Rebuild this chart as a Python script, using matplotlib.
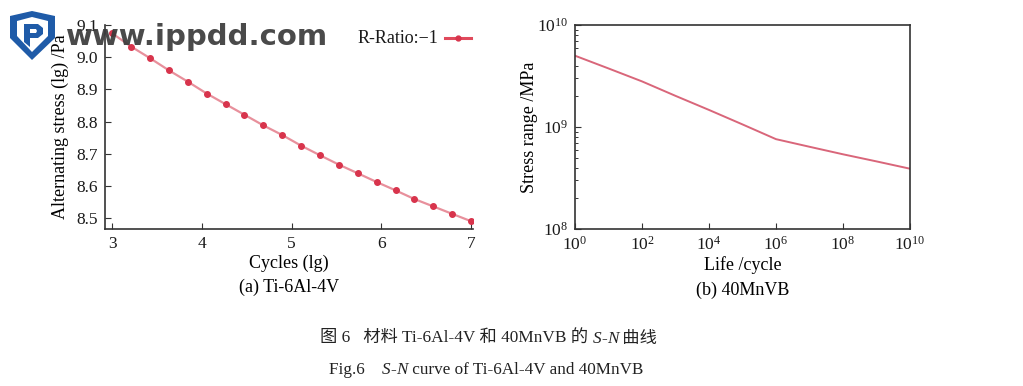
import matplotlib
matplotlib.use("Agg")
import matplotlib.pyplot as plt
import numpy as np
from matplotlib.patches import Polygon
from matplotlib.ticker import FixedLocator, LogLocator, NullFormatter, FuncFormatter

# ---- data ----
ti_cycles_lg = [3.000, 3.211, 3.421, 3.632, 3.842, 4.053, 4.263, 4.474, 4.684, 4.895,
                5.105, 5.316, 5.526, 5.737, 5.947, 6.158, 6.368, 6.579, 6.789, 7.000]
ti_stress_lg = [9.074, 9.033, 8.997, 8.959, 8.924, 8.887, 8.854, 8.821, 8.788, 8.758,
                8.725, 8.695, 8.666, 8.639, 8.612, 8.586, 8.559, 8.536, 8.513, 8.490]
mn_life = [1e0, 1e1, 1e2, 1e3, 1e4, 1e5, 1e6, 1e7, 1e8, 1e9, 1e10]
mn_stress = [5.0e9, 3.75e9, 2.8e9, 2.02e9, 1.47e9, 1.06e9, 7.6e8, 6.4e8, 5.4e8, 4.6e8, 3.9e8]
left_yticks = [8.5, 8.6, 8.7, 8.8, 8.9, 9.0, 9.1]
left_xticks = [3, 4, 5, 6, 7]
right_xticks = [1e0, 1e2, 1e4, 1e6, 1e8, 1e10]
right_yticks = [1e8, 1e9, 1e10]

SERIF = ['Liberation Serif', 'Noto Sans CJK SC', 'DejaVu Sans']
plt.rcParams['font.family'] = SERIF
plt.rcParams['mathtext.fontset'] = 'custom'
plt.rcParams['mathtext.rm'] = 'Liberation Serif'
plt.rcParams['mathtext.it'] = 'Liberation Serif:italic'

W, H = 1023, 386
fig = plt.figure(figsize=(W / 100, H / 100), dpi=100)

def ax_rect(x0, x1, y0, y1):
    return [x0 / W, 1 - y1 / H, (x1 - x0) / W, (y1 - y0) / H]

axis_col = '#333333'
tick_kw = dict(direction='in', colors=axis_col, labelcolor='#1a1a1a', labelsize=12.5)

# ---- left plot ----
ax1 = fig.add_axes(ax_rect(105, 473, 25, 229))
ax1.plot(ti_cycles_lg, ti_stress_lg, color='#e8909c', lw=1.6, zorder=2)
ax1.plot(ti_cycles_lg, ti_stress_lg, ls='none', marker='o', ms=4.0,
         color='#d8344c', zorder=3)
ax1.set_xlim(2.92, 7.02)
ax1.set_ylim(8.466, 9.1)
ax1.set_xticks(left_xticks)
ax1.set_yticks(left_yticks)
ax1.yaxis.set_major_formatter(FuncFormatter(lambda v, p: f"{v:.1f}"))
ax1.tick_params(axis='both', length=4, width=0.8, pad=5, **tick_kw)
for s in ['top', 'right']:
    ax1.spines[s].set_visible(False)
for s in ['left', 'bottom']:
    ax1.spines[s].set_color(axis_col)
    ax1.spines[s].set_linewidth(1.2)
ax1.set_xlabel('Cycles (lg)', fontsize=13, labelpad=2)
ax1.set_ylabel('Alternating stress (lg) /Pa', fontsize=13, labelpad=5)

# legend (text then line sample)
ax1.plot([0.925, 0.995], [0.935, 0.935], transform=ax1.transAxes, color='#e04a5c',
         lw=2.2, clip_on=False)
ax1.plot([0.96], [0.935], transform=ax1.transAxes, marker='o', ms=3.5,
         color='#d8344c', clip_on=False)
ax1.text(0.905, 0.935, 'R-Ratio:\u22121', transform=ax1.transAxes, ha='right',
         va='center', fontsize=13, color='#1a1a1a')

# ---- right plot ----
ax2 = fig.add_axes(ax_rect(575, 910, 25, 229))
ax2.plot(mn_life, mn_stress, color='#d9667a', lw=1.4)
ax2.set_xscale('log')
ax2.set_yscale('log')
ax2.set_xlim(1e0, 1e10)
ax2.set_ylim(1e8, 1e10)
ax2.xaxis.set_major_locator(FixedLocator(right_xticks))
ax2.xaxis.set_minor_locator(FixedLocator([]))
ax2.yaxis.set_major_locator(FixedLocator(right_yticks))
ax2.yaxis.set_minor_locator(LogLocator(base=10, subs=np.arange(2, 10)))
ax2.yaxis.set_minor_formatter(NullFormatter())
fmt = FuncFormatter(lambda v, p: r'$\mathregular{10^{%d}}$' % int(round(np.log10(v))))
ax2.xaxis.set_major_formatter(fmt)
ax2.yaxis.set_major_formatter(fmt)
ax2.tick_params(axis='both', which='major', length=4, width=0.8, pad=5, **tick_kw)
ax2.tick_params(axis='y', which='minor', length=2.5, width=0.7, direction='in',
                colors=axis_col)
for s in ax2.spines.values():
    s.set_color(axis_col)
    s.set_linewidth(1.2)
ax2.set_xlabel('Life /cycle', fontsize=13, labelpad=2)
ax2.set_ylabel('Stress range /MPa', fontsize=13, labelpad=-1)

# ---- sub-captions ----
fig.text(289 / W, 1 - 287 / H, '(a) Ti-6Al-4V', ha='center', va='center', fontsize=13)
fig.text(743 / W, 1 - 290 / H, '(b) 40MnVB', ha='center', va='center', fontsize=13)

# ---- figure captions: pieces laid along one baseline ----
renderer = fig.canvas.get_renderer()

def caption(pieces, x_px, y_px, size):
    x = x_px
    for txt, style in pieces:
        t = fig.text(x / W, 1 - y_px / H, txt, fontsize=size, color='#222222',
                     va='baseline', ha='left', family=SERIF, style=style)
        x += t.get_window_extent(renderer=renderer).width

caption([('图 6   材料 Ti-6Al-4V 和 40MnVB 的 ', 'normal'), ('S', 'italic'),
         ('-', 'normal'), ('N', 'italic'), (' 曲线', 'normal')], 320, 343, 12.4)
caption([('Fig.6    ', 'normal'), ('S', 'italic'), ('-', 'normal'), ('N', 'italic'),
         (' curve of Ti-6Al-4V and 40MnVB', 'normal')], 329, 374, 12.3)

# ---- watermark ----
fig.text(66 / W, 1 - 37 / H, 'www.ippdd.com', ha='left', va='center',
         fontsize=21, fontweight='bold', family='DejaVu Sans', color='#3a3a3a',
         alpha=0.92)
blue = '#1f5ba8'
def px(x, y):
    return (x / W, 1 - y / H)
shield = [px(10, 16), px(32, 11), px(55, 16), px(55, 38), px(32, 60), px(10, 38)]
fig.patches.append(Polygon(shield, closed=True, transform=fig.transFigure,
                           facecolor=blue, edgecolor='none', zorder=10))
inner = [px(17, 21), px(32, 17), px(48, 21), px(48, 36), px(32, 52), px(17, 36)]
fig.patches.append(Polygon(inner, closed=True, transform=fig.transFigure,
                           facecolor='white', edgecolor='none', zorder=11))
pbody = [px(24, 24), px(38, 24), px(43, 28), px(43, 34), px(38, 38), px(30, 38),
         px(30, 47), px(24, 42)]
fig.patches.append(Polygon(pbody, closed=True, transform=fig.transFigure,
                           facecolor=blue, edgecolor='none', zorder=12))
phole = [px(30, 29), px(36, 29), px(37, 31), px(36, 33), px(30, 33)]
fig.patches.append(Polygon(phole, closed=True, transform=fig.transFigure,
                           facecolor='white', edgecolor='none', zorder=13))

fig.savefig('out.png', dpi=100)
